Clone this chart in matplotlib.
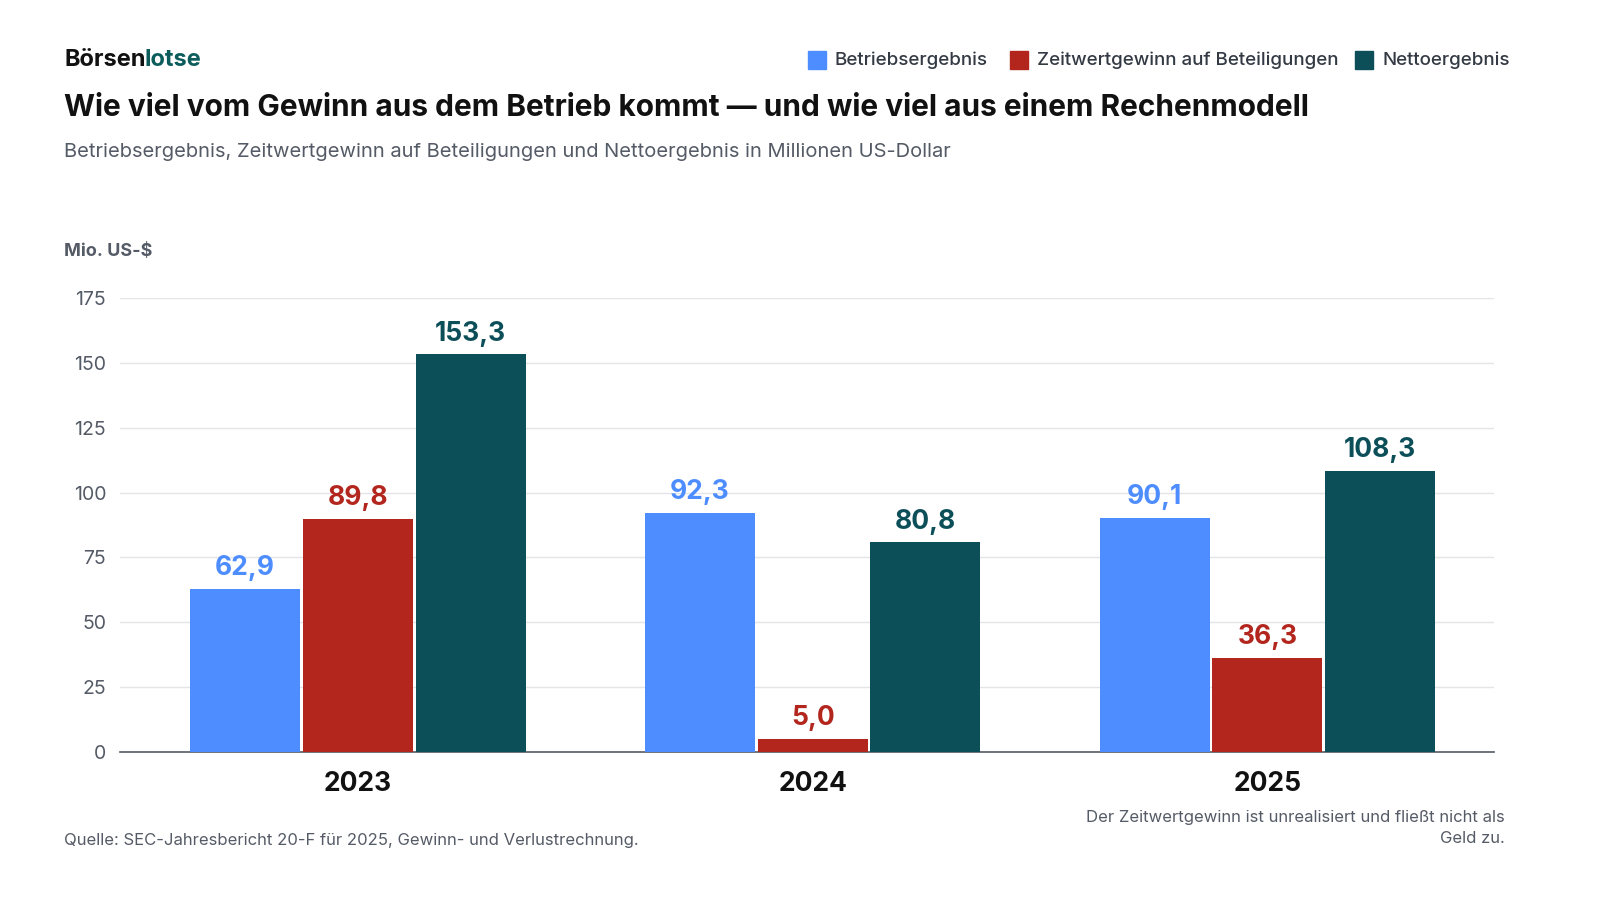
import matplotlib.pyplot as plt
import numpy as np

plt.rcParams['font.family'] = ['Inter', 'DejaVu Sans']

years = ['2023', '2024', '2025']
series = ['Betriebsergebnis', 'Zeitwertgewinn auf Beteiligungen', 'Nettoergebnis']
betrieb = [62.9, 92.3, 90.1]
zeitwert = [89.8, 5.0, 36.3]
netto = [153.3, 80.8, 108.3]
colors = ['#4d8dff', '#b3261e', '#0d4f59']
yticks = [0, 25, 50, 75, 100, 125, 150, 175]

fig = plt.figure(figsize=(16, 9), dpi=100)
ax = fig.add_axes([0.075, 1 - 752 / 900, 0.859, (752 - 298) / 900])

x = np.arange(len(years))
width = 0.242
offset = 0.248
for i, (vals, col) in enumerate(zip([betrieb, zeitwert, netto], colors)):
    pos = x + (i - 1) * offset
    ax.bar(pos, vals, width, color=col, zorder=3)
    for p, v in zip(pos, vals):
        ax.text(p, v + 3, f'{v:.1f}'.replace('.', ','), ha='center', va='bottom',
                fontsize=19, fontweight='bold', color=col)

ax.set_xlim(-0.523, 2.499)
ax.set_ylim(0, 175)
ax.set_yticks(yticks)
ax.set_yticklabels([str(t) for t in yticks], fontsize=14, color='#555b66')
ax.set_xticks(x)
ax.set_xticklabels(years, fontsize=19, fontweight='bold', color='#111111')
ax.tick_params(axis='both', length=0)
ax.tick_params(axis='x', pad=14)
ax.tick_params(axis='y', pad=10)
ax.grid(axis='y', color='#e3e5e8', linewidth=1, zorder=0)
for s in ['top', 'right', 'left']:
    ax.spines[s].set_visible(False)
ax.spines['bottom'].set_color('#555b66')
ax.spines['bottom'].set_linewidth(1.2)

fig.text(0.04, 1 - 60 / 900, 'Börsen', fontsize=17, fontweight='bold', color='#111111', va='center')
fig.text(0.04 + 0.0505, 1 - 60 / 900, 'lotse', fontsize=17, fontweight='bold', color='#0d5c5c', va='center')
fig.text(0.04, 1 - 108 / 900, 'Wie viel vom Gewinn aus dem Betrieb kommt — und wie viel aus einem Rechenmodell',
         fontsize=21.5, fontweight='bold', color='#111111', va='center')
fig.text(0.04, 1 - 152 / 900, 'Betriebsergebnis, Zeitwertgewinn auf Beteiligungen und Nettoergebnis in Millionen US-Dollar',
         fontsize=14.5, color='#555b66', va='center')
fig.text(0.04, 1 - 252 / 900, 'Mio. US-$', fontsize=13, fontweight='bold', color='#555b66', va='center')

# legend
leg_x = [808, 1010, 1355]
for lx, name, col in zip(leg_x, series, colors):
    fig.patches.append(plt.Rectangle((lx / 1600, 1 - 69 / 900), 18 / 1600, 18 / 900,
                                     transform=fig.transFigure, color=col))
    fig.text((lx + 27) / 1600, 1 - 60 / 900, name, fontsize=13.5, fontweight='medium',
             color='#333a44', va='center')

fig.text(0.04, 1 - 840 / 900, 'Quelle: SEC-Jahresbericht 20-F für 2025, Gewinn- und Verlustrechnung.',
         fontsize=12, color='#555b66', va='center')
fig.text(1505 / 1600, 1 - 828 / 900, 'Der Zeitwertgewinn ist unrealisiert und fließt nicht als\nGeld zu.',
         fontsize=12, color='#555b66', va='center', ha='right', linespacing=1.5)

fig.savefig('out.png', dpi=100, facecolor='white')
